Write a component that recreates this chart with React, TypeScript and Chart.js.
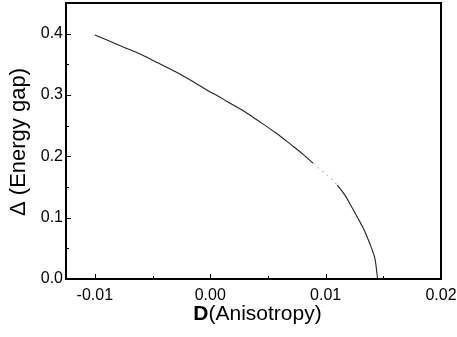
import React, { useEffect, useRef } from "react";
import { Chart, registerables } from "chart.js";

Chart.register(...registerables);

// Anisotropy D values (x) and energy gap values (y)
const dValues = [
  -0.0100, -0.0090, -0.0075, -0.0060, -0.0045, -0.0030, -0.0015, 0.0000,
  0.0007, 0.0015, 0.0028, 0.0040, 0.0057, 0.0070, 0.0080, 0.0089, 0.0097,
  0.0104, 0.0110, 0.0117, 0.0123, 0.0128, 0.0132, 0.0135, 0.0138, 0.0141,
  0.0143, 0.0144, 0.0145,
];
const gapValues = [
  0.398, 0.390, 0.378, 0.366, 0.352, 0.338, 0.322, 0.305,
  0.298, 0.289, 0.275, 0.260, 0.238, 0.219, 0.204, 0.189, 0.176,
  0.165, 0.153, 0.136, 0.116, 0.099, 0.085, 0.073, 0.059, 0.044,
  0.031, 0.017, 0.000,
];

// faint (nearly broken) stretch of the curve
const faintFrom = 0.0089;
const faintTo = 0.0110;

const xTickValues = [-0.01, 0.0, 0.01, 0.02];
const xMinorValues = [-0.005, 0.005, 0.015];
const yTickValues = [0.0, 0.1, 0.2, 0.3, 0.4];
const yMinorValues = [0.05, 0.15, 0.25, 0.35];

const X_MIN = -0.0125;
const X_MAX = 0.02;
const Y_MIN = 0;
const Y_MAX = 0.45;

const xTitleBold = "D";
const xTitleRest = "(Anisotropy)";
const yTitle = "\u0394 (Energy gap)";

const FONT = "'Liberation Sans', Arial, sans-serif";

const zeroPadding = (scale: any) => {
  scale.paddingLeft = 0;
  scale.paddingRight = 0;
  scale.paddingTop = 0;
  scale.paddingBottom = 0;
};

const framePlugin = {
  id: "framePlugin",
  afterDraw(chart: any) {
    const { ctx, chartArea } = chart;
    const xs = chart.scales.x;
    const ys = chart.scales.y;
    const { left, right, top, bottom } = chartArea;
    ctx.save();
    // inward ticks
    ctx.strokeStyle = "#000";
    ctx.lineWidth = 1;
    ctx.beginPath();
    xTickValues.forEach((v) => {
      const px = Math.round(xs.getPixelForValue(v)) + 0.5;
      ctx.moveTo(px, bottom);
      ctx.lineTo(px, bottom - 5);
    });
    xMinorValues.forEach((v) => {
      const px = Math.round(xs.getPixelForValue(v)) + 0.5;
      ctx.moveTo(px, bottom);
      ctx.lineTo(px, bottom - 3);
    });
    yTickValues.forEach((v) => {
      const py = Math.round(ys.getPixelForValue(v)) + 0.5;
      ctx.moveTo(left, py);
      ctx.lineTo(left + 5, py);
    });
    yMinorValues.forEach((v) => {
      const py = Math.round(ys.getPixelForValue(v)) + 0.5;
      ctx.moveTo(left, py);
      ctx.lineTo(left + 3, py);
    });
    ctx.stroke();
    // frame
    ctx.lineWidth = 2;
    ctx.strokeRect(left, top, right - left, bottom - top);

    // x title with bold D
    ctx.fillStyle = "#000";
    ctx.textBaseline = "alphabetic";
    const boldFont = `bold 21px ${FONT}`;
    const normFont = `21px ${FONT}`;
    ctx.font = boldFont;
    const wB = ctx.measureText(xTitleBold).width;
    ctx.font = normFont;
    const wR = ctx.measureText(xTitleRest).width;
    const cx = (left + right) / 2 + 4;
    const startX = cx - (wB + wR) / 2;
    const baseY = 320;
    ctx.font = boldFont;
    ctx.textAlign = "left";
    ctx.fillText(xTitleBold, startX, baseY);
    ctx.font = normFont;
    ctx.fillText(xTitleRest, startX + wB, baseY);

    // y title
    ctx.translate(25, (top + bottom) / 2 + 1);
    ctx.rotate(-Math.PI / 2);
    ctx.textAlign = "center";
    ctx.font = `22px ${FONT}`;
    ctx.fillText(yTitle, 0, 0);
    ctx.restore();
  },
};

export default function App() {
  const canvasRef = useRef<HTMLCanvasElement | null>(null);

  useEffect(() => {
    document.body.style.margin = "0";
    const canvas = canvasRef.current;
    if (!canvas) return;
    const points = dValues.map((d, i) => ({ x: d, y: gapValues[i] }));
    const inFaint = (ctx: any) =>
      ctx.p0.parsed.x >= faintFrom && ctx.p1.parsed.x <= faintTo;
    const chart = new Chart(canvas, {
      type: "line",
      data: {
        datasets: [
          {
            data: points,
            borderColor: "#222",
            borderWidth: 1.1,
            pointRadius: 0,
            fill: false,
            cubicInterpolationMode: "monotone",
            segment: {
              borderColor: (ctx: any) => (inFaint(ctx) ? "#bbb" : undefined),
              borderDash: (ctx: any) => (inFaint(ctx) ? [2, 4] : undefined),
            },
          },
        ],
      },
      options: {
        animation: false,
        responsive: false,
        maintainAspectRatio: false,
        layout: { padding: { top: 3, right: 16, left: 0, bottom: 0 } },
        plugins: {
          legend: { display: false },
          tooltip: { enabled: false },
          title: { display: false },
        },
        scales: {
          x: {
            type: "linear",
            min: X_MIN,
            max: X_MAX,
            grid: { display: false, drawTicks: false },
            border: { display: false },
            afterBuildTicks: (scale: any) => {
              scale.ticks = xTickValues.map((v) => ({ value: v }));
            },
            afterFit: (scale: any) => {
              scale.height = 58;
              zeroPadding(scale);
            },
            ticks: {
              color: "#000",
              padding: 7,
              maxRotation: 0,
              autoSkip: false,
              font: { family: FONT, size: 16 },
              callback: (v: any) => Number(v).toFixed(2),
            },
          },
          y: {
            type: "linear",
            min: Y_MIN,
            max: Y_MAX,
            grid: { display: false, drawTicks: false },
            border: { display: false },
            afterBuildTicks: (scale: any) => {
              scale.ticks = yTickValues.map((v) => ({ value: v }));
            },
            afterFit: (scale: any) => {
              scale.width = 66;
              zeroPadding(scale);
            },
            ticks: {
              color: "#000",
              padding: 3,
              autoSkip: false,
              font: { family: FONT, size: 16 },
              callback: (v: any) => Number(v).toFixed(1),
            },
          },
        },
      },
      plugins: [framePlugin],
    });
    return () => chart.destroy();
  }, []);

  return (
    <div style={{ width: 457, height: 337, background: "#fff" }}>
      <canvas ref={canvasRef} width={457} height={337} style={{ display: "block" }} />
    </div>
  );
}
